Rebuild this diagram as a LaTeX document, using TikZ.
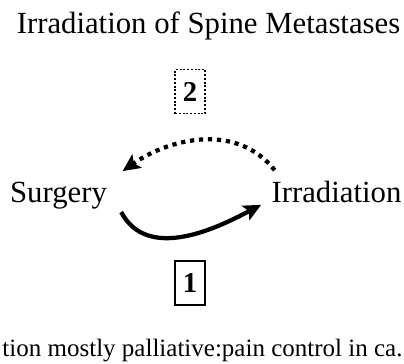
\documentclass[tikz,border=0pt]{standalone}
\usepackage{fontspec}
\setmainfont{Liberation Serif}
\usetikzlibrary{arrows.meta, positioning}
\tikzstyle{term} = [font=\fontsize{12.3}{14}\selectfont, inner sep=4pt]
\tikzstyle{stepnum} = [rectangle, draw=black, font=\fontsize{11.5}{13}\selectfont\bfseries, minimum width=12pt, minimum height=17.6pt, inner sep=1pt, line width=0.6pt]
\tikzstyle{arrow} = [line width=1.7pt, -{Stealth[length=7pt,width=6.5pt,inset=1.5pt]}]
\tikzstyle{dotarrow} = [arrow, dash pattern=on 1.7pt off 1.9pt]

\begin{document}
\begin{tikzpicture}[x=0.4pt, y=0.4pt]
    \useasboundingbox (0,0) rectangle (404,363);
    \node (title) [term, anchor=base] at (208.5,330) {Irradiation of Spine Metastases};
    \node (surg) [term, anchor=base] at (58.5,161) {Surgery};
    \node (irr) [term, anchor=base] at (336.5,161) {Irradiation};
    \node (two) [stepnum, dash pattern=on 0.8pt off 0.7pt] at (190,271.5) {2};
    \node (one) [stepnum] at (190,80) {1};
    \node (note) [anchor=base west, inner sep=0pt, font=\fontsize{10}{12}\selectfont] at (2,7) {tion mostly palliative:pain control in ca.};

    \draw [arrow] ([xshift=1.5pt]surg.-16) to[out=-62, in=-152] (irr.190);
    \draw [dotarrow] (irr.161) to[out=128, in=35] ([xshift=3pt]surg.23);
\end{tikzpicture}
\end{document}
